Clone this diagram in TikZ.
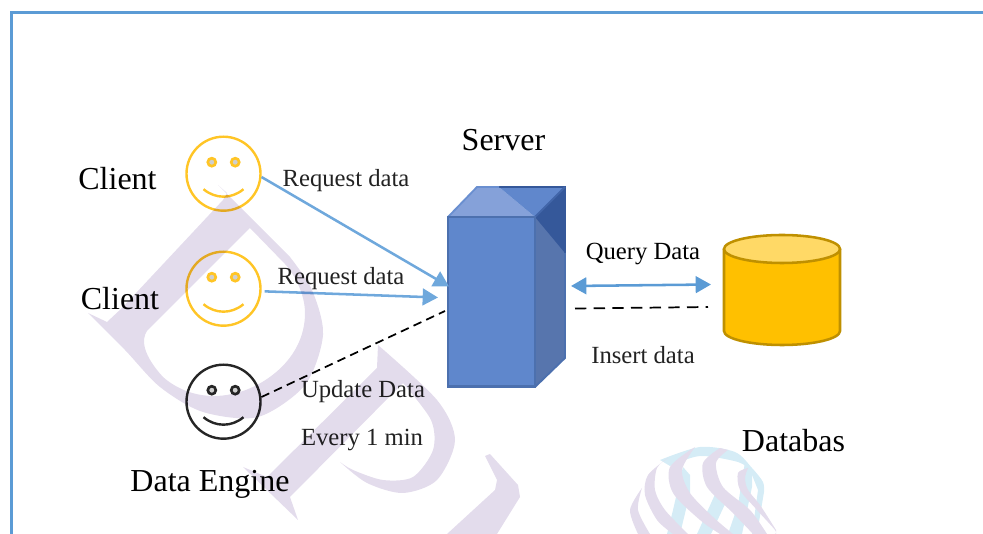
\documentclass[tikz,border=0pt]{standalone}
\usepackage{fontspec}
\setmainfont{Liberation Serif}
\usetikzlibrary{arrows.meta}

\definecolor{frameblue}{HTML}{5B9BD5}
\definecolor{linkblue}{HTML}{6FA8DC}
\definecolor{faceyellow}{HTML}{FFC526}
\definecolor{facedark}{HTML}{262626}
\definecolor{eyegrey}{HTML}{CFCFCF}
\definecolor{srvfront}{HTML}{5F87CC}
\definecolor{srvline}{HTML}{4C70AE}
\definecolor{srvtopa}{HTML}{85A1D9}
\definecolor{srvtopb}{HTML}{6087CC}
\definecolor{srvside}{HTML}{5775AD}
\definecolor{srvdark}{HTML}{35589A}
\definecolor{dbbody}{HTML}{FFC000}
\definecolor{dbtop}{HTML}{FFD966}
\definecolor{dbline}{HTML}{BF9000}
\definecolor{marklilac}{HTML}{E3DCEC}
\definecolor{markblue}{HTML}{D5ECF6}
\definecolor{smalltext}{HTML}{222222}

\tikzset{
 face/.style={circle, draw=#1, line width=1.8pt, minimum size=55.5pt, inner sep=0pt},
 bigtext/.style={font=\fontsize{24}{28}\selectfont, inner sep=0pt},
 smalllabel/.style={font=\fontsize{18.5}{22}\selectfont, text=smalltext, inner sep=0pt},
 bluelink/.style={draw=linkblue, line width=1.9pt},
 blacklink/.style={draw=black, line width=1.3pt, dash pattern=on 6.5pt off 4pt},
 headtip/.style={-{Triangle[length=11.5pt,width=12.5pt]}}
}

\newcommand{\smiley}[3]{
 \node[face=#3] (#1) at (#2) {};
 \draw[#3, line width=2pt, fill=eyegrey] ([shift={(-11.7,-11.5)}]#1.center) circle (4);
 \draw[#3, line width=2pt, fill=eyegrey] ([shift={(11.7,-11.5)}]#1.center) circle (4);
 \draw[#3, line width=1.8pt] ([shift={(-20,15.5)}]#1.center) .. controls +(12,10) and +(-12,10) .. ([shift={(20,15.5)}]#1.center);
}

\begin{document}
\begin{tikzpicture}[x=0.75pt,y=-0.75pt]
 \useasboundingbox (0,0) rectangle (983,534);

 % frame
 \draw[frameblue, line width=2.2pt] (11.5,534) -- (11.5,12.5) -- (983,12.5);

 % clients and engine
 \smiley{clientA}{223.5,173.7}{faceyellow}
 \smiley{clientB}{223.5,288.7}{faceyellow}
 \smiley{engine}{223.5,401.7}{facedark}
 \node[bigtext] (clientAlabel) at (117.5,178.5) {Client};
 \node[bigtext] (clientBlabel) at (120,299) {Client};
 \node[bigtext] (enginelabel) at (210,484) {Data Engine};

 % server box
 \node[minimum width=64.7pt, minimum height=126.8pt, inner sep=0pt] (server) at (491.6,301.8) {};
 \fill[srvtopa] (448,217) -- (477,187) -- (499,187) -- (535,217) -- cycle;
 \fill[srvtopb] (499,187) -- (565,187) -- (535,217) -- cycle;
 \fill[srvside] (535,217) -- (565,187) -- (565,358) -- (535,387) -- cycle;
 \fill[srvdark] (535,217) -- (565,187) -- (565,253) -- cycle;
 \draw[srvdark, line width=1.4pt] (499,187) -- (565,187) -- (565,253);
 \draw[srvfront!70!srvtopa, line width=1.4pt] (448,217) -- (477,187) -- (499,187);
 \draw[srvdark!70!srvtopb, line width=1.4pt] (565,187) -- (535,217);
 \draw[srvline, line width=1.4pt] (565,253) -- (565,358) -- (535,387);
 \draw[srvline, line width=1.9pt, fill=srvfront] (server.north west) rectangle (server.south east);
 \node[bigtext] (serverlabel) at (503.5,140) {Server};

 % database
 \node[minimum width=87pt, minimum height=82pt, inner sep=0pt] (database) at (782,290) {};
 \draw[dbline, line width=1.9pt, fill=dbbody] (724,249) -- (724,331) arc[start angle=180, end angle=0, x radius=58, y radius=14] -- (840,249);
 \draw[dbline, line width=1.9pt, fill=dbtop] (782,249) ellipse [x radius=58, y radius=14];
 \node[bigtext] (databaselabel) at (793.5,441) {Databas};

 % ends of the links
 \coordinate (serverinA) at (449,286.5);
 \coordinate (serverinB) at (438,297.5);
 \coordinate (serverinC) at (445,311);
 \coordinate (serveroutA) at (571,286);
 \coordinate (serveroutB) at (575,308.5);
 \coordinate (databaseinA) at (711,284.5);
 \coordinate (databaseinB) at (708,307);

 \draw[bluelink, headtip] (clientA.-5) -- (serverinA);
 \draw[bluelink, headtip] (clientB.-4) ++(3,0) -- (serverinB);
 \draw[blacklink] (engine.7) -- (serverinC);
 \draw[bluelink, draw=frameblue, {Triangle[length=11.5pt,width=12.5pt]}-{Triangle[length=11.5pt,width=12.5pt]}] (serveroutA) -- (databaseinA);
 \draw[blacklink, dash pattern=on 8.5pt off 5.5pt] (serveroutB) -- (databaseinB);

 \node[smalllabel] (requestA) at (346,181) {Request data};
 \node[smalllabel] (requestB) at (341,279) {Request data};
 \node[smalllabel] (update) at (363,392) {Update Data};
 \node[smalllabel] (every) at (362,440) {Every 1 min};
 \node[smalllabel, text=black] (query) at (643,254) {Query Data};
 \node[smalllabel] (insert) at (643,355) {Insert data};

 % watermark
 \begin{scope}[blend mode=multiply]
 \clip (0,0) rectangle (983,534);
 \fill[marklilac, even odd rule] (88,313) -- plot[smooth] coordinates {(88,313) (125,350) (160,387) (203,412) (258,417) (305,385) (323,335) (312,290) (290,257)} -- (218,185) -- (227,193) -- (223,200) -- (122,308) -- (107,322) -- cycle
   (250,228) -- (147,331) .. controls (141,340) and (143,355) .. (163,377) .. controls (180,392) and (205,400) .. (232,394) .. controls (262,388) and (305,360) .. (305,313) .. controls (305,295) and (295,275) .. (285,264) -- cycle;
 \fill[marklilac] (243,467) -- (267,477) -- (377,368) -- (378,345) -- plot[smooth] coordinates {(378,345) (437,400) (455,440) (437,480) (403,493) (367,483) (340,462)} -- plot[smooth] coordinates {(340,462) (353,470) (383,480) (413,477) (433,450) (431,420) (403,383)} -- (290,497) -- (298,520) -- cycle;
 \fill[marklilac] (485,456) -- (490,454) -- (518,485) -- (520,497) -- (497,534) -- (447,534) -- (495,490) -- (497,480) -- cycle;
 \end{scope}
 % globe, back ribbons
 \fill[markblue] plot[smooth] coordinates {(660,460) (700,447) (735,452) (752,468) (763,482) (764,492)} -- (757,534) -- (752,534) -- (758,490) -- plot[smooth] coordinates {(750,470) (738,462) (700,456) (670,466)} -- cycle;
 \fill[markblue] (683,467) -- (690,475) -- (690,493) -- (680,534) -- (667,534) -- (673,510) -- cycle;
 \fill[markblue] (717,490) -- (697,534) -- (711,534) -- (727,500) -- cycle;
 \fill[markblue] (745,462) -- (752,470) -- (752,487) -- (742,534) -- (728,534) -- (738,505) -- (742,480) -- cycle;
 % globe, front ribbons
 \fill[marklilac] plot[smooth] coordinates {(642,488) (630,510) (638,534)} -- (650,534) -- plot[smooth] coordinates {(650,534) (638,510) (642,488)} -- cycle;
 \fill[marklilac] plot[smooth] coordinates {(668,458) (648,475) (645,495) (657,520) (673,534)} -- (688,534) -- plot[smooth] coordinates {(688,534) (665,510) (655,490) (657,468) (668,458)} -- cycle;
 \fill[marklilac] plot[smooth] coordinates {(695,447) (670,467) (673,493) (700,520) (720,534)} -- (733,534) -- plot[smooth] coordinates {(733,534) (713,517) (690,493) (682,470) (695,447)} -- cycle;
 \fill[marklilac] plot[smooth] coordinates {(720,448) (703,463) (707,487) (733,513) (753,534)} -- (767,534) -- plot[smooth] coordinates {(767,534) (750,510) (723,487) (716,463) (728,450)} -- cycle;
 \fill[marklilac] plot[smooth] coordinates {(748,468) (738,473) (740,490) (757,510) (775,530) (775,534)} -- (776,534) -- plot[smooth] coordinates {(776,530) (760,505) (748,490) (745,478) (748,468)} -- cycle;
\end{tikzpicture}
\end{document}
